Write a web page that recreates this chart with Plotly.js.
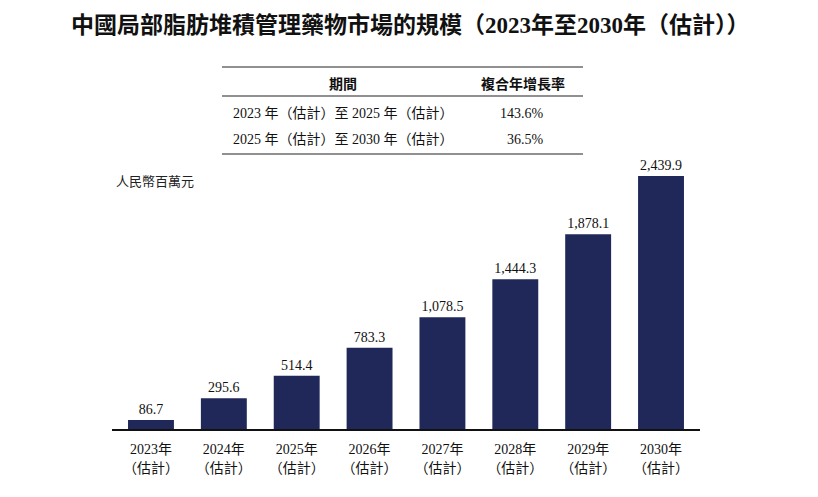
<!DOCTYPE html>
<html><head><meta charset="utf-8">
<script src="https://cdn.plot.ly/plotly-3.0.1.min.js"></script>
<style>html,body{margin:0;padding:0;background:#fff}#chart{width:818px;height:497px}</style>
</head><body><div id="chart"></div>
<script>
const years = ["2023年<br>（估計）","2024年<br>（估計）","2025年<br>（估計）","2026年<br>（估計）","2027年<br>（估計）","2028年<br>（估計）","2029年<br>（估計）","2030年<br>（估計）"];
const values = [86.7, 295.6, 514.4, 783.3, 1078.5, 1444.3, 1878.1, 2439.9];
const valueLabels = ["86.7","295.6","514.4","783.3","1,078.5","1,444.3","1,878.1","2,439.9"];
const tableHeader = ["期間", "複合年增長率"];
const tablePeriods = ["2023 年（估計）至 2025 年（估計）", "2025 年（估計）至 2030 年（估計）"];
const tableCagr = ["143.6%", "36.5%"];
const titleText = "中國局部脂肪堆積管理藥物市場的規模（2023年至2030年（估計））";
const unitText = "人民幣百萬元";

const W = 818, H = 497, L = 112, R = 118, T = 60, B = 68;
const pw = W - L - R, ph = H - T - B;
const px = x => (x - L) / pw;
const py = y => (H - B - y) / ph;
const serif = "Liberation Serif, Times New Roman, Noto Sans CJK TC, serif";
const cjk = "Noto Sans CJK TC, sans-serif";

const ann = [];
const shapes = [];
// title
ann.push({xref:'paper', yref:'paper', x: px(410), y: py(25), text: '<b>' + titleText + '</b>', showarrow:false,
  font:{family:"Liberation Serif, Noto Sans CJK TC, serif", size:23, color:'#111'}, xanchor:'center', yanchor:'middle'});
// unit
ann.push({xref:'paper', yref:'paper', x: px(114), y: py(180), text: unitText, showarrow:false,
  font:{family:cjk, size:13, color:'#222'}, xanchor:'left', yanchor:'middle'});
// table
[67, 96, 154].forEach(y => shapes.push({type:'line', xref:'paper', yref:'paper', x0:px(222), x1:px(583), y0:py(y), y1:py(y), line:{color:'#222', width:1.2}}));
ann.push({xref:'paper', yref:'paper', x: px(343), y: py(83), text:'<b>'+tableHeader[0]+'</b>', showarrow:false, font:{family:cjk,size:14,color:'#111'}, xanchor:'center', yanchor:'middle'});
ann.push({xref:'paper', yref:'paper', x: px(523), y: py(83), text:'<b>'+tableHeader[1]+'</b>', showarrow:false, font:{family:cjk,size:14,color:'#111'}, xanchor:'center', yanchor:'middle'});
const rowY = [113, 139];
tablePeriods.forEach((t,i) => {
  ann.push({xref:'paper', yref:'paper', x: px(231), y: py(rowY[i]), text:t, showarrow:false, font:{family:serif,size:14,color:'#111'}, xanchor:'left', yanchor:'middle'});
  ann.push({xref:'paper', yref:'paper', x: px(546), y: py(rowY[i]), text:tableCagr[i], showarrow:false, font:{family:serif,size:14,color:'#111'}, xanchor:'right', yanchor:'middle'});
});

const trace = {
  type:'bar', x: years, y: values, text: valueLabels, textposition:'outside', cliponaxis:false,
  textfont:{family:serif, size:14, color:'#111'},
  marker:{color:'#1f2859'}, width:0.63, hoverinfo:'none'
};
const layout = {
  width:W, height:H, margin:{l:L, r:R, t:T, b:B},
  paper_bgcolor:'#fff', plot_bgcolor:'#fff', showlegend:false,
  xaxis:{type:'category', range:[-0.535, 7.535], showline:true, linecolor:'#111', linewidth:1.5, ticks:'',
    ticklabelstandoff:7,
    tickfont:{family:serif, size:14, color:'#111'}, showgrid:false, zeroline:false, fixedrange:true},
  yaxis:{range:[0, 2439.9*ph/253], visible:false, showgrid:false, zeroline:false, fixedrange:true},
  annotations: ann, shapes: shapes
};
Plotly.newPlot('chart', [trace], layout, {displayModeBar:false, staticPlot:true});
</script></body></html>
